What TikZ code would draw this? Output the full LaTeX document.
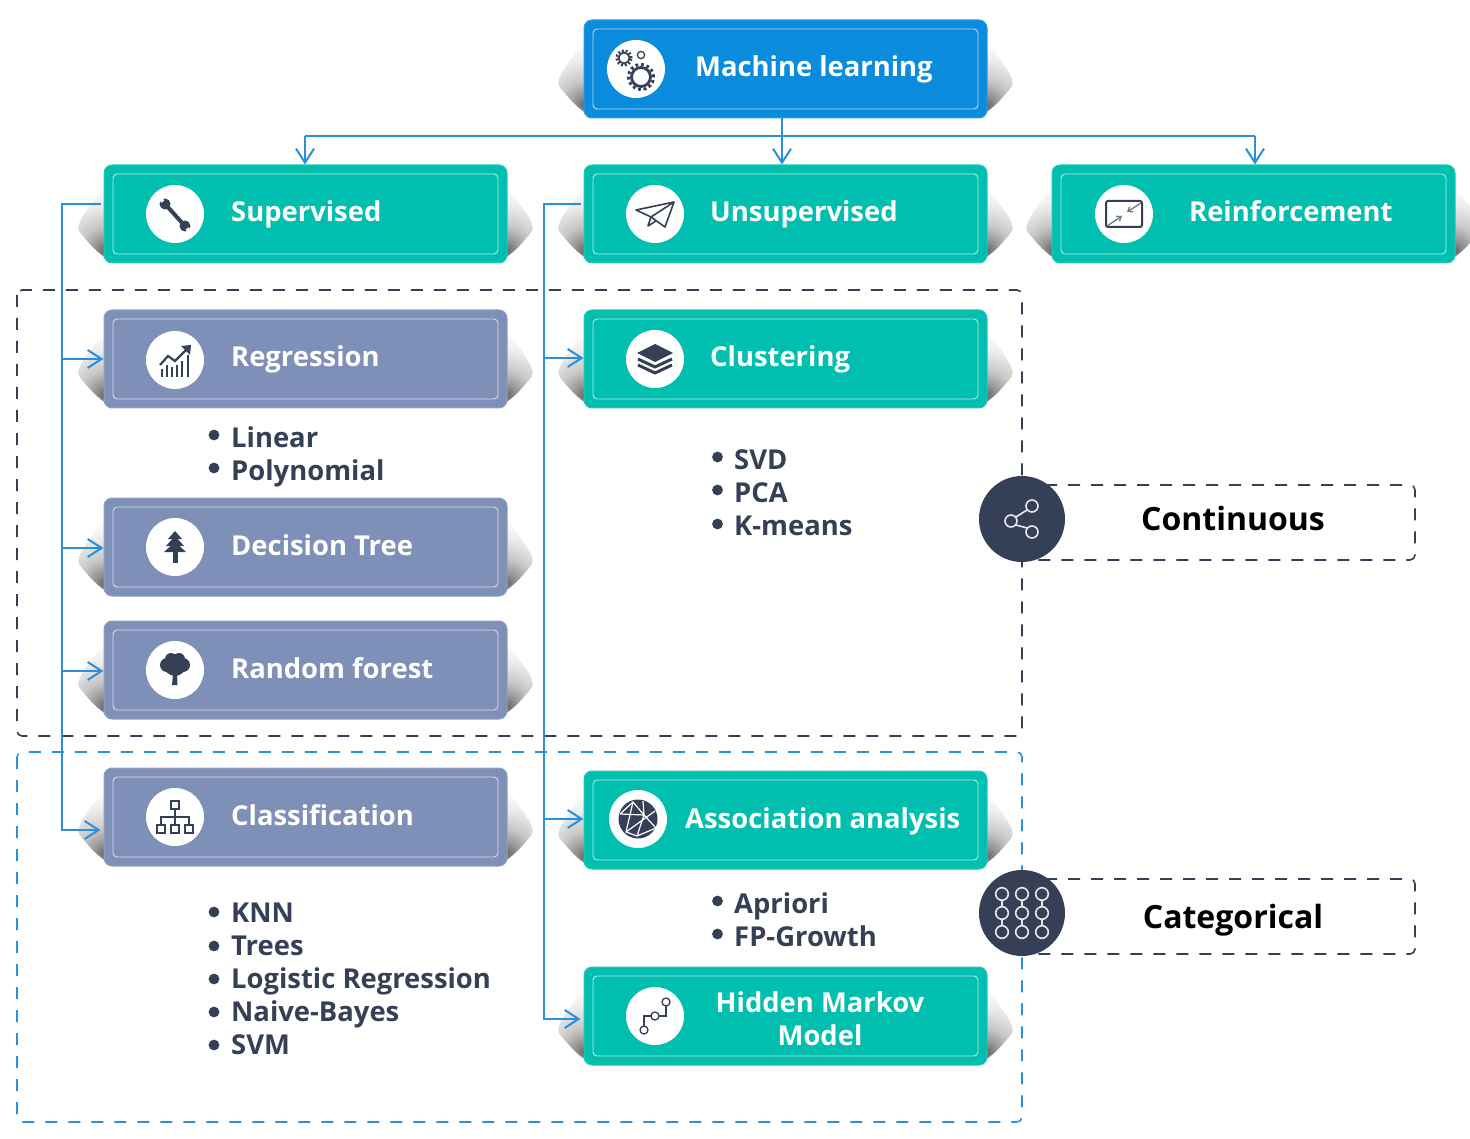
\documentclass[tikz,border=0pt]{standalone}
\usepackage{fontspec}
\setmainfont{Open Sans}
\usetikzlibrary{arrows.meta}

\definecolor{mlblue}{HTML}{0A8BDC}
\definecolor{mlteal}{HTML}{00BFAF}
\definecolor{mlslate}{HTML}{7E8FB8}
\definecolor{mldark}{HTML}{353F55}
\definecolor{mlline}{HTML}{2A90DA}

\pgfdeclareradialshading{mlsoft}{\pgfpointorigin}{color(0bp)=(black!60); color(4bp)=(black!42); color(10bp)=(black!22); color(18bp)=(black!8); color(26bp)=(white); color(50bp)=(white)}

\tikzset{
  mlbox/.style={fill=#1, draw=#1!85!white, line width=1, rounded corners=8pt,
    minimum width=403pt, minimum height=98pt, inner sep=0pt,
    path picture={\draw[white, opacity=.7, line width=.9, rounded corners=4pt]
      ([shift={(9pt,-9pt)}]path picture bounding box.north west) rectangle
      ([shift={(-9pt,9pt)}]path picture bounding box.south east);}},
  mlicon/.style={circle, fill=white, minimum size=58pt, inner sep=0pt},
  mlround/.style={circle, fill=mldark, minimum size=86pt, inner sep=0pt},
  mllabel/.style={text=white, anchor=base west, inner sep=0pt,
    font=\bfseries\fontsize{27.4}{33}\selectfont},
  mllist/.style={text=mldark, anchor=north west, inner sep=0pt, align=left,
    font=\bfseries\fontsize{27.4}{33}\selectfont},
  mlkey/.style={text=black, inner sep=0pt, font=\bfseries\fontsize{32}{38}\selectfont},
  flow/.style={draw=mlline, line width=2, -{Straight Barb[length=14pt,width=18pt]}},
  trunk/.style={draw=mlline, line width=2},
  zonedark/.style={draw=mldark, line width=1.6, dash pattern=on 12pt off 11pt, rounded corners=5pt},
  zoneblue/.style={draw=mlline, line width=1.6, dash pattern=on 12pt off 11pt, rounded corners=5pt},
  ink/.style={draw=mldark, line width=1.6},
  inkfill/.style={fill=mldark},
  pale/.style={draw=white!88!mldark, line width=1.6}
}

% soft shadow on both flanks of a box
\newcommand{\mlshadow}[1]{%
  \begin{scope}[shift={(#1)}]
    \begin{scope}
      \clip (-198,-32) .. controls (-214,-10) and (-232,10) .. (-226,18)
        .. controls (-220,25) and (-210,38) .. (-198,45) -- cycle;
      \shade[shading=mlsoft] (-201,36) circle (60pt);
    \end{scope}
    \begin{scope}
      \clip (198,-32) .. controls (214,-10) and (232,10) .. (226,18)
        .. controls (220,25) and (210,38) .. (198,45) -- cycle;
      \shade[shading=mlsoft] (201,36) circle (60pt);
    \end{scope}
  \end{scope}}

% icons, drawn round the centre of their white disc
\newcommand{\icongears}[1]{\begin{scope}[shift={(#1)}]
  \draw[ink, line width=2.8] (5,8) circle (9.5pt);
  \draw[ink, line width=3, dash pattern=on 2.8pt off 2.8pt] (5,8) circle (12.6pt);
  \draw[ink, line width=1.8] (-12,-11) circle (5.5pt);
  \draw[ink, line width=2.2, dash pattern=on 2pt off 2pt] (-12,-11) circle (7.5pt);
  \draw[ink, line width=1.3] (5,-14) circle (3.6pt);
\end{scope}}
\newcommand{\iconwrench}[1]{\begin{scope}[shift={(#1)}]
  \draw[ink, line width=4] (-9,-9) -- (9,11);
  \fill[inkfill] (-10,-10) circle (5.5pt) (10,12) circle (5.5pt);
  \draw[white, line width=3.6] (-12,-12.5) -- (-17,-18);
  \draw[white, line width=3.6] (12,14.5) -- (17,20);
\end{scope}}
\newcommand{\iconplane}[1]{\begin{scope}[shift={(#1)}]
  \draw[ink, line join=round] (-19,-4) -- (19,-12) -- (10,13) -- (-4,3) -- cycle;
  \draw[ink, line join=round] (19,-12) -- (-4,3) -- (-7,12) -- (1,7);
\end{scope}}
\newcommand{\iconscreen}[1]{\begin{scope}[shift={(#1)}]
  \draw[ink, line width=2, rounded corners=2pt] (-18,-13) rectangle (18,13);
  \draw[draw=mldark!70, line width=1.3, -{Straight Barb[length=4pt,width=6pt]}] (-17,12) -- (-2,2);
  \draw[draw=mldark!70, line width=1.3, -{Straight Barb[length=4pt,width=6pt]}] (17,-11) -- (3,-2);
\end{scope}}
\newcommand{\iconchart}[1]{\begin{scope}[shift={(#1)}]
  \draw[ink, line width=2.2] (-13,17) -- (-13,9) (-8,17) -- (-8,5) (-3,17) -- (-3,7)
    (2,17) -- (2,5) (7,17) -- (7,1) (13,17) -- (13,-5);
  \draw[ink, line width=2.2] (-15,5) -- (-7,-4) -- (0,1) -- (13,-12);
  \fill[inkfill] (16,-15) -- (6,-14) -- (15,-5) -- cycle;
\end{scope}}
\newcommand{\iconstack}[1]{\begin{scope}[shift={(#1)}]
  \fill[inkfill] (-18,-6) -- (0,-15) -- (18,-6) -- (0,3) -- cycle;
  \draw[ink, line width=3, line join=round] (-17,0) -- (0,8) -- (17,0);
  \draw[ink, line width=3, line join=round] (-17,6) -- (0,14) -- (17,6);
\end{scope}}
\newcommand{\iconfir}[1]{\begin{scope}[shift={(#1)}]
  \fill[inkfill] (0,-16) -- (7,-8) -- (-7,-8) -- cycle;
  \fill[inkfill] (0,-11) -- (9,-1) -- (-9,-1) -- cycle;
  \fill[inkfill] (0,-5) -- (11,5) -- (-11,5) -- cycle;
  \fill[inkfill] (-2.5,4) rectangle (2.5,16);
\end{scope}}
\newcommand{\iconoak}[1]{\begin{scope}[shift={(#1)}]
  \fill[inkfill] (-8,-5) circle (7pt) (8,-5) circle (7pt) (0,-5) circle (11pt)
    (-4,-11) circle (6pt) (4,-11) circle (6pt);
  \fill[inkfill] (-2,4) -- (2,4) -- (2.5,15) -- (-3,15) -- cycle;
\end{scope}}
\newcommand{\iconorg}[1]{\begin{scope}[shift={(#1)}]
  \draw[ink] (-4,-16) rectangle (4,-8);
  \draw[ink] (-18,8) rectangle (-10,16) (-4,8) rectangle (4,16) (10,8) rectangle (18,16);
  \draw[ink] (0,-8) -- (0,8) (-14,8) -- (-14,0) -- (14,0) -- (14,8);
\end{scope}}
\newcommand{\iconglobe}[1]{\begin{scope}[shift={(#1)}]
  \fill[inkfill] (0,0) circle (19.5pt);
  \draw[white, line width=1.2] (-18,-5) -- (-5,-17) -- (6,-4) -- (18,9)
    (-5,-17) -- (-12,13) -- (-1,17) -- (6,-4) -- (-18,-5)
    (-12,13) -- (17,-8) (5,-18) -- (6,-4) (-1,17) -- (18,9);
\end{scope}}
\newcommand{\iconpath}[1]{\begin{scope}[shift={(#1)}]
  \draw[ink, line width=1.3] (-11,14) circle (4pt) (0,0) circle (4pt) (11,-14) circle (4pt);
  \draw[ink, line width=1.3] (-11,10) -- (-11,0) -- (-4,0) (4,0) -- (11,0) -- (11,-10);
\end{scope}}
\newcommand{\iconshare}[1]{\begin{scope}[shift={(#1)}]
  \draw[pale] (-11,2) circle (6pt) (10,-13) circle (6pt) (10,13) circle (6pt);
  \draw[pale] (-6,-2) -- (5,-9) (-6,6) -- (5,9);
\end{scope}}
\newcommand{\icongrid}[1]{\begin{scope}[shift={(#1)}]
  \draw[pale] (-20,-19) circle (6.3pt) (0,-19) circle (6.3pt) (20,-19) circle (6.3pt)
    (-20,0) circle (6.3pt) (0,0) circle (6.3pt) (20,0) circle (6.3pt)
    (-20,19) circle (6.3pt) (0,19) circle (6.3pt) (20,19) circle (6.3pt);
  \draw[pale] (-20,-13) -- (-20,-6) (0,-13) -- (0,-6) (20,-13) -- (20,-6)
    (-20,6) -- (-20,13) (0,6) -- (0,13) (20,6) -- (20,13);
\end{scope}}

\begin{document}
\begin{tikzpicture}[x=1pt, y=-1pt]
  \useasboundingbox (0,0) rectangle (1470,1139);

  % Shadows
  \mlshadow{785.5,69}
  \mlshadow{305.5,214}
  \mlshadow{785.5,214}
  \mlshadow{1253.5,214}
  \mlshadow{305.5,359}
  \mlshadow{785.5,359}
  \mlshadow{305.5,547}
  \mlshadow{305.5,670}
  \mlshadow{305.5,817}
  \mlshadow{785.5,820}
  \mlshadow{785.5,1016}

  % Zones
  \draw[zonedark] (17,290) rectangle (1022,736);
  \draw[zoneblue] (17,752) rectangle (1022,1122);
  \coordinate (contA) at (1022,485);
  \coordinate (contB) at (1415,485);
  \coordinate (contC) at (1415,560);
  \coordinate (contD) at (1022,560);
  \draw[zonedark] (contA) -- (contB) -- (contC) -- (contD);
  \coordinate (catA) at (1022,879);
  \coordinate (catB) at (1415,879);
  \coordinate (catC) at (1415,954);
  \coordinate (catD) at (1022,954);
  \draw[zonedark] (catA) -- (catB) -- (catC) -- (catD);

  % Top level
  \node[mlbox=mlblue] (ml) at (785.5,69) {};
  \node[mlicon] (mlI) at (636,69) {};
  \icongears{mlI}
  \node[mllabel] (mlT) at (695,77) {Machine learning};

  % Learning types
  \node[mlbox=mlteal] (sup) at (305.5,214) {};
  \node[mlicon] (supI) at (175,214) {};
  \iconwrench{supI}
  \node[mllabel] (supT) at (231,222) {Supervised};

  \node[mlbox=mlteal] (unsup) at (785.5,214) {};
  \node[mlicon] (unsupI) at (655,214) {};
  \iconplane{unsupI}
  \node[mllabel] (unsupT) at (710,222) {Unsupervised};

  \node[mlbox=mlteal] (rein) at (1253.5,214) {};
  \node[mlicon] (reinI) at (1124,214) {};
  \iconscreen{reinI}
  \node[mllabel] (reinT) at (1189,222) {Reinforcement};

  % Supervised methods
  \node[mlbox=mlslate] (reg) at (305.5,359) {};
  \node[mlicon] (regI) at (175,360) {};
  \iconchart{regI}
  \node[mllabel] (regT) at (231,367) {Regression};

  \node[mlbox=mlslate] (dtree) at (305.5,547) {};
  \node[mlicon] (dtreeI) at (175,547) {};
  \iconfir{dtreeI}
  \node[mllabel] (dtreeT) at (231,555) {Decision Tree};

  \node[mlbox=mlslate] (forest) at (305.5,670) {};
  \node[mlicon] (forestI) at (175,670) {};
  \iconoak{forestI}
  \node[mllabel] (forestT) at (231,678) {Random forest};

  \node[mlbox=mlslate] (class) at (305.5,817) {};
  \node[mlicon] (classI) at (175,817) {};
  \iconorg{classI}
  \node[mllabel] (classT) at (231,825) {Classification};

  % Unsupervised methods
  \node[mlbox=mlteal] (clust) at (785.5,359) {};
  \node[mlicon] (clustI) at (655,359) {};
  \iconstack{clustI}
  \node[mllabel] (clustT) at (710,367) {Clustering};

  \node[mlbox=mlteal] (assoc) at (785.5,820) {};
  \node[mlicon] (assocI) at (638,819) {};
  \iconglobe{assocI}
  \node[mllabel] (assocT) at (685,828) {Association analysis};

  \node[mlbox=mlteal] (hmm) at (785.5,1016) {};
  \node[mlicon] (hmmI) at (655,1016) {};
  \iconpath{hmmI}
  \node[mllabel, anchor=center, align=center] (hmmT) at (820,1019) {Hidden Markov\\Model};

  % Lists
  \node[mllist] (regL) at (231,426) {Linear\\Polynomial};
  \node[mllist] (clustL) at (734,449) {SVD\\PCA\\K-means};
  \node[mllist] (classL) at (231,903) {KNN\\Trees\\Logistic Regression\\Naive-Bayes\\SVM};
  \node[mllist] (assocL) at (734,892) {Apriori\\FP-Growth};
  \fill[inkfill] (214,435) circle (5.4pt) (214,468) circle (5.4pt);
  \fill[inkfill] (717.5,457) circle (5.4pt) (717.5,490) circle (5.4pt) (717.5,524) circle (5.4pt);
  \fill[inkfill] (214,912) circle (5.4pt) (214,946) circle (5.4pt) (214,979) circle (5.4pt)
    (214,1012) circle (5.4pt) (214,1045) circle (5.4pt);
  \fill[inkfill] (717.5,901) circle (5.4pt) (717.5,934) circle (5.4pt);

  % Connectors
  \coordinate (busL) at (305,136);
  \coordinate (busR) at (1255,136);
  \coordinate (supA) at (62,204);
  \coordinate (supB) at (62,830);
  \coordinate (unsupA) at (544,204);
  \coordinate (unsupB) at (544,1019);

  \draw[flow] ([xshift=-3.5pt]ml.south) -- ([xshift=-3.5pt]unsup.north);
  \draw[trunk] (busL) -- (busR);
  \draw[flow] (busL) -- (busL |- sup.north);
  \draw[flow] (busR) -- (busR |- rein.north);

  \draw[flow] ([shift={(-3pt,10pt)}]sup.west) -- (supA) -- (supB) -- ([shift={(-3pt,-13pt)}]class.west);
  \draw[flow] (supA |- reg.west) -- (reg.west);
  \draw[flow] ([yshift=-1pt]supA |- dtree.west) -- ([yshift=-1pt]dtree.west);
  \draw[flow] ([yshift=-1pt]supA |- forest.west) -- ([yshift=-1pt]forest.west);

  \draw[flow] ([shift={(-3pt,10pt)}]unsup.west) -- (unsupA) -- (unsupB) -- ([shift={(-3pt,-3pt)}]hmm.west);
  \draw[flow] ([yshift=1pt]unsupA |- clust.west) -- ([yshift=1pt]clust.west);
  \draw[flow] ([yshift=1pt]unsupA |- assoc.west) -- ([yshift=1pt]assoc.west);

  % Data kinds
  \node[mlround] (cont) at (1022,519) {};
  \iconshare{cont}
  \node[mlkey] (contT) at (1233,518) {Continuous};
  \node[mlround] (cat) at (1022,913) {};
  \icongrid{cat}
  \node[mlkey] (catT) at (1233,920) {Categorical};
\end{tikzpicture}
\end{document}
